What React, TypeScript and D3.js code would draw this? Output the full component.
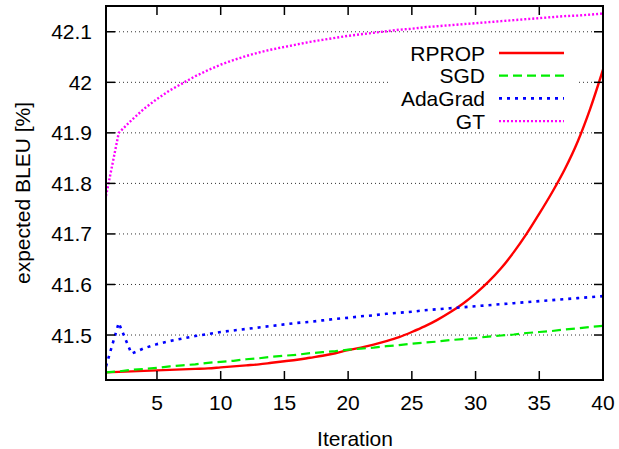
import React from "react";
import * as d3 from "d3";

const iterations = d3.range(1, 41);

const rprop = [
  41.426, 41.427, 41.428, 41.429, 41.430, 41.431, 41.432, 41.433, 41.434, 41.436,
  41.438, 41.440, 41.442, 41.445, 41.448, 41.451, 41.455, 41.459, 41.464, 41.470,
  41.475, 41.481, 41.488, 41.496, 41.506, 41.517, 41.530, 41.545, 41.562, 41.582,
  41.605, 41.632, 41.664, 41.700, 41.740, 41.782, 41.828, 41.882, 41.948, 42.025,
];
const sgd = [
  41.426, 41.428, 41.431, 41.433, 41.435, 41.438, 41.440, 41.442, 41.445, 41.447,
  41.449, 41.452, 41.454, 41.457, 41.459, 41.461, 41.464, 41.466, 41.468, 41.471,
  41.473, 41.475, 41.478, 41.480, 41.483, 41.485, 41.487, 41.490, 41.492, 41.494,
  41.497, 41.499, 41.501, 41.504, 41.506, 41.508, 41.511, 41.513, 41.516, 41.518,
];
const adagrad = [
  41.438, 41.524, 41.463, 41.474, 41.482, 41.488, 41.493, 41.498, 41.502, 41.506,
  41.509, 41.512, 41.515, 41.518, 41.521, 41.524, 41.526, 41.529, 41.532, 41.534,
  41.537, 41.539, 41.542, 41.544, 41.546, 41.549, 41.551, 41.553, 41.555, 41.557,
  41.559, 41.561, 41.563, 41.565, 41.567, 41.569, 41.571, 41.573, 41.575, 41.577,
];
const gt = [
  41.775, 41.900, 41.925, 41.948, 41.967, 41.984, 41.998, 42.012, 42.024, 42.035,
  42.044, 42.052, 42.059, 42.065, 42.070, 42.075, 42.080, 42.084, 42.088, 42.092,
  42.095, 42.098, 42.101, 42.104, 42.106, 42.109, 42.111, 42.113, 42.115, 42.117,
  42.119, 42.121, 42.123, 42.125, 42.127, 42.129, 42.131, 42.132, 42.134, 42.136,
];

const xTicks = [5, 10, 15, 20, 25, 30, 35, 40];
const yTicks = [41.5, 41.6, 41.7, 41.8, 41.9, 42, 42.1];
const seriesNames = ["RPROP", "SGD", "AdaGrad", "GT"];
const seriesValues = [rprop, sgd, adagrad, gt];
const seriesColors = ["#ff0000", "#00ee00", "#0000ff", "#ff00ff"];
const seriesDash = ["none", "9,5", "3,5", "2,2"];
const seriesWidth = [2.4, 2.2, 2.6, 2.4];
const seriesSmooth = [true, false, false, false];

const W = 619;
const H = 449;
const L = 106, R = 603, T = 6, B = 380;
const FONT = "'Liberation Sans', Arial, Helvetica, sans-serif";
const FS = 21;

export default function App() {
  const x = d3.scaleLinear().domain([1, 40]).range([L, R]);
  const y = d3.scaleLinear().domain([41.411, 42.151]).range([B, T]);
  const makeLine = (smooth: boolean) =>
    d3
      .line<number>()
      .x((_, i) => x(iterations[i]))
      .y((d) => y(d))
      .curve(smooth ? d3.curveMonotoneX : d3.curveLinear);

  const tick = 9;
  const legX = 485;
  const legY0 = 53;
  const legDy = 22.7;

  return (
    <svg
      width={W}
      height={H}
      style={{ position: "absolute", left: 0, top: 0, background: "#fff" }}
      fontFamily={FONT}
    >
      <defs>
        <clipPath id="plotclip">
          <rect x={L} y={T} width={R - L} height={B - T} />
        </clipPath>
      </defs>
      <rect x={0} y={0} width={W} height={H} fill="#fff" />
      {/* grid */}
      {yTicks.map((t) => (
        <line
          key={"g" + t}
          x1={L + tick}
          x2={R - tick}
          y1={y(t)}
          y2={y(t)}
          stroke="#333"
          strokeWidth={1}
          strokeDasharray="1,3"
        />
      ))}
      {/* legend background */}
      <rect x={390} y={38} width={188} height={91} fill="#fff" />
      {/* series */}
      <g clipPath="url(#plotclip)">
        {seriesValues.map((vals, i) => (
          <path
            key={seriesNames[i]}
            d={makeLine(seriesSmooth[i])(vals) || ""}
            fill="none"
            stroke={seriesColors[i]}
            strokeWidth={seriesWidth[i]}
            strokeDasharray={seriesDash[i]}
            strokeLinejoin="round"
          />
        ))}
      </g>
      {/* legend */}
      {seriesNames.map((n, i) => (
        <g key={"leg" + n}>
          <text
            x={legX}
            y={legY0 + i * legDy}
            dy="0.36em"
            textAnchor="end"
            fontSize={FS}
            fill="#000"
          >
            {n}
          </text>
          <line
            x1={499}
            x2={564}
            y1={legY0 + i * legDy}
            y2={legY0 + i * legDy}
            stroke={seriesColors[i]}
            strokeWidth={seriesWidth[i]}
            strokeDasharray={seriesDash[i]}
          />
        </g>
      ))}
      {/* ticks */}
      {yTicks.map((t) => (
        <g key={"yt" + t}>
          <line x1={L} x2={L + tick} y1={y(t)} y2={y(t)} stroke="#000" strokeWidth={1.5} />
          <line x1={R} x2={R - tick} y1={y(t)} y2={y(t)} stroke="#000" strokeWidth={1.5} />
          <text x={L - 14} y={y(t)} dy="0.36em" textAnchor="end" fontSize={FS} fill="#000">
            {d3.format("")(t)}
          </text>
        </g>
      ))}
      {xTicks.map((t) => (
        <g key={"xt" + t}>
          <line x1={x(t)} x2={x(t)} y1={B} y2={B - tick} stroke="#000" strokeWidth={1.5} />
          <line x1={x(t)} x2={x(t)} y1={T} y2={T + tick} stroke="#000" strokeWidth={1.5} />
          <text x={x(t)} y={B + 22} dy="0.36em" textAnchor="middle" fontSize={FS} fill="#000">
            {t}
          </text>
        </g>
      ))}
      {/* frame */}
      <rect x={L} y={T} width={R - L} height={B - T} fill="none" stroke="#000" strokeWidth={2} />
      {/* axis labels */}
      <text x={355} y={438} dy="0.36em" textAnchor="middle" fontSize={FS} fill="#000">
        Iteration
      </text>
      <text
        transform={`translate(22,${(T + B) / 2}) rotate(-90)`}
        dy="0.36em"
        textAnchor="middle"
        fontSize={FS}
        fill="#000"
      >
        expected BLEU [%]
      </text>
    </svg>
  );
}
